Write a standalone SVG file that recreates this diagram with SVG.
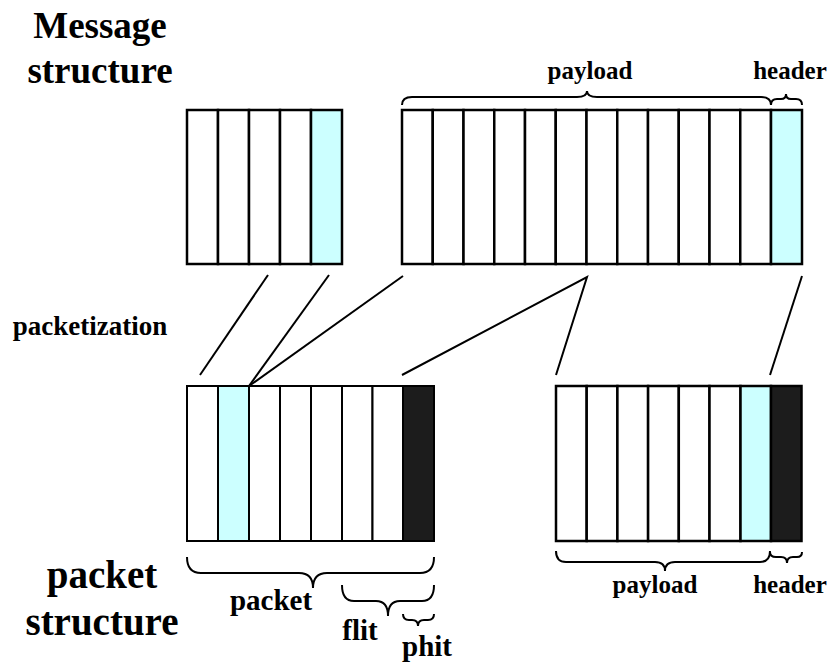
<svg xmlns="http://www.w3.org/2000/svg" width="834" height="664" viewBox="0 0 834 664">
<style>
.cell{fill:#fff;stroke:#000;stroke-width:2.5}
.hdr{fill:#ccffff;stroke:#000;stroke-width:2.5}
.blk{fill:#1c1c1c;stroke:#000;stroke-width:2.5}
.ln{stroke:#000;stroke-width:2;fill:none}
.br{stroke:#000;stroke-width:2;fill:none}
.t{font-family:"Liberation Serif","Times New Roman",serif;font-weight:bold;fill:#000}
.title{font-size:37px;text-anchor:middle}
.lbl{font-size:25px;text-anchor:middle}
.lbl2{font-size:29px;text-anchor:middle}
</style>
<rect width="834" height="664" fill="#fff"/>
<g id="title-message"><text class="t title" x="100" y="38">Message</text><text class="t title" x="100" y="83">structure</text></g>
<g id="title-packet"><text class="t title" x="102" y="588" style="font-size:39px">packet</text><text class="t title" x="102" y="635" style="font-size:39px">structure</text></g>
<g id="label-packetization"><text class="t lbl2" x="90" y="335" style="font-size:27px">packetization</text></g>

<g id="msg1">
<rect class="cell" x="187" y="110" width="31" height="154"/>
<rect class="cell" x="218" y="110" width="31" height="154"/>
<rect class="cell" x="249" y="110" width="31" height="154"/>
<rect class="cell" x="280" y="110" width="31" height="154"/>
<rect class="hdr" x="311" y="110" width="31" height="154"/>
</g>

<g id="msg2">
<rect class="cell" x="402" y="110" width="30.75" height="154"/>
<rect class="cell" x="432.75" y="110" width="30.75" height="154"/>
<rect class="cell" x="463.5" y="110" width="30.75" height="154"/>
<rect class="cell" x="494.25" y="110" width="30.75" height="154"/>
<rect class="cell" x="525" y="110" width="30.75" height="154"/>
<rect class="cell" x="555.75" y="110" width="30.75" height="154"/>
<rect class="cell" x="586.5" y="110" width="30.75" height="154"/>
<rect class="cell" x="617.25" y="110" width="30.75" height="154"/>
<rect class="cell" x="648" y="110" width="30.75" height="154"/>
<rect class="cell" x="678.75" y="110" width="30.75" height="154"/>
<rect class="cell" x="709.5" y="110" width="30.75" height="154"/>
<rect class="cell" x="740.25" y="110" width="30.75" height="154"/>
<rect class="hdr" x="771" y="110" width="31" height="154"/>
</g>

<g id="msg2-labels">
<path class="br" d="M402,105 Q402,97 412,97 L577,97 Q587,97 587,91 Q587,97 597,97 L761,97 Q771,97 771,105"/>
<path class="br" d="M771,105 Q771,99 777,99 L781,99 Q786,99 786,94 Q786,99 791,99 L796,99 Q802,99 802,105"/>
<text class="t lbl" x="590" y="79">payload</text>
<text class="t lbl" x="790" y="79">header</text>
</g>

<g id="pkt1">
<rect class="cell" x="187" y="386" width="31" height="155" style="stroke-width:2"/>
<rect class="hdr" x="218" y="386" width="31" height="155" style="stroke-width:2"/>
<rect class="cell" x="249" y="386" width="31" height="155" style="stroke-width:2"/>
<rect class="cell" x="280" y="386" width="31" height="155" style="stroke-width:2"/>
<rect class="cell" x="311" y="386" width="31" height="155" style="stroke-width:2"/>
<rect class="cell" x="342" y="386" width="30.5" height="155" style="stroke-width:2"/>
<rect class="cell" x="372.5" y="386" width="30.5" height="155" style="stroke-width:2"/>
<rect class="blk" x="403" y="386" width="31" height="155" style="stroke-width:2"/>
</g>

<g id="pkt1-labels">
<path class="br" d="M187,557 Q187,573 201,573 L299,573 Q313,573 313,588 Q313,573 327,573 L420,573 Q434,573 434,557"/>
<path class="br" d="M342,585 Q342,601 354,601 L376,601 Q388,601 388,616 Q388,601 400,601 L422,601 Q434,601 434,585"/>
<path class="br" d="M403,614 Q403,620 409,620 L412,620 Q418,620 418,626 Q418,620 424,620 L428,620 Q434,620 434,614"/>
<text class="t lbl2" x="271" y="610">packet</text>
<text class="t lbl2" x="360" y="640">flit</text>
<text class="t lbl2" x="427" y="656">phit</text>
</g>

<g id="pkt2">
<rect class="cell" x="556" y="386" width="30.7" height="155"/>
<rect class="cell" x="586.7" y="386" width="30.7" height="155"/>
<rect class="cell" x="617.4" y="386" width="30.7" height="155"/>
<rect class="cell" x="648.1" y="386" width="30.7" height="155"/>
<rect class="cell" x="678.8" y="386" width="30.7" height="155"/>
<rect class="cell" x="709.5" y="386" width="31" height="155"/>
<rect class="hdr" x="740.5" y="386" width="30.5" height="155"/>
<rect class="blk" x="771" y="386" width="30.5" height="155"/>
</g>

<g id="pkt2-labels">
<path class="br" d="M556,551 Q556,562 566,562 L655,562 Q665,562 665,571 Q665,562 675,562 L760,562 Q770,562 770,551"/>
<path class="br" d="M770,552 Q770,557 776,557 L781,557 Q787,557 787,563 Q787,557 793,557 L797,557 Q802,557 802,552"/>
<text class="t lbl" x="655" y="593">payload</text>
<text class="t lbl" x="790" y="593">header</text>
</g>

<g id="connectors">
<line class="ln" x1="268" y1="275" x2="200" y2="375"/>
<line class="ln" x1="329" y1="275" x2="249" y2="386"/>
<line class="ln" x1="403" y1="276" x2="249" y2="386"/>
<polyline class="ln" points="402,375 587,277 556,375"/>
<line class="ln" x1="802" y1="276" x2="770" y2="375"/>
</g>
</svg>
